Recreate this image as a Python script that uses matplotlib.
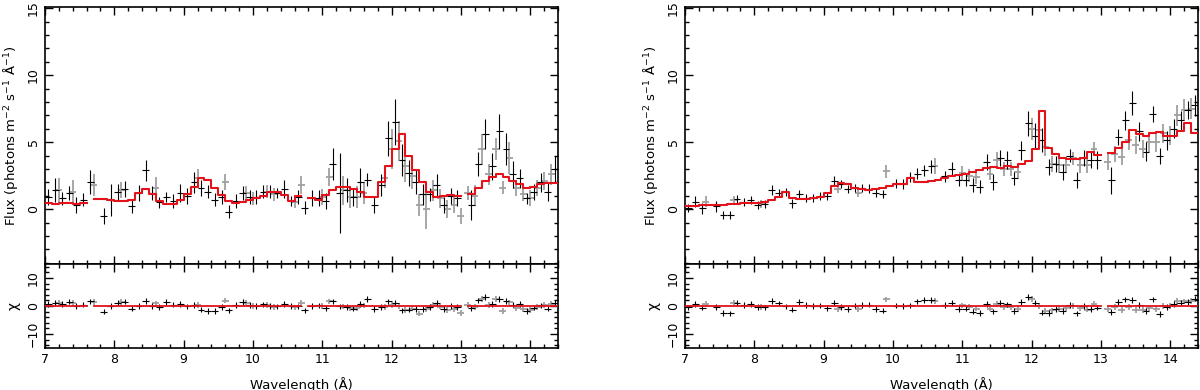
import numpy as np
import matplotlib
matplotlib.use("Agg")
import matplotlib.pyplot as plt
from matplotlib.ticker import MultipleLocator

nan = np.nan

# wavelength bins (Angstrom), 0.1 wide from 7.0 to 14.4
edges = np.round(np.arange(7.0, 14.45, 0.1), 2)
wl_black = np.round(edges[:-1] + 0.05, 3)   # bin centres of the black data
wl_grey = np.round(edges[1:-1], 3)          # grey data sit half a bin later

# ---- left spectrum ----
left_model = [0.47, 0.40, 0.42, 0.42, 0.35, 0.45, 0.50, 0.72, 0.72, 0.68,
              0.60, 0.57, 0.65, 1.20, 1.47, 1.15, 0.60, 0.35, 0.35, 0.65,
              1.10, 1.65, 2.35, 2.15, 1.55, 1.05, 0.60, 0.45, 0.50, 0.67,
              0.85, 1.00, 1.30, 1.25, 1.04, 0.62, 0.97, 0.90, 0.80, 0.67,
              1.04, 1.42, 1.67, 1.67, 1.54, 1.30, 0.92, 0.92, 2.00, 3.20,
              4.50, 5.60, 4.00, 2.90, 2.00, 1.30, 0.92, 0.95, 1.05, 0.95,
              1.00, 1.10, 1.60, 2.10, 2.40, 2.60, 2.40, 2.10, 1.85, 1.55,
              1.65, 1.85, 1.95, 1.92]
left_gaps = [6, 37, 60]

left_black = [0.9, 1.4, 0.8, 1.2, 0.3, 0.7, 2.0, nan, -0.5, 0.7,
              1.3, 1.5, 0.2, 1.2, 2.9, 1.2, 0.5, 0.9, 0.6, 1.2,
              1.0, 2.0, 1.6, 1.3, 0.7, 0.9, -0.2, 0.6, 1.2, 0.9,
              0.9, 1.3, 1.3, 1.2, 1.5, 0.6, 0.9, 0.1, 0.8, 0.8,
              0.6, 3.4, 1.2, 1.4, 0.9, 2.0, 2.2, 0.3, 1.8, 5.3,
              6.5, 3.7, 2.7, 2.0, 1.1, 1.1, 1.8, 0.3, 1.0, 0.8,
              nan, 0.3, 3.4, 5.6, 3.2, 5.8, 4.5, 2.6, 2.3, 0.8,
              1.3, 2.0, 1.3, 3.0]
left_black_err = [0.6, 0.9, 0.5, 0.5, 0.6, 0.5, 0.9, nan, 0.6, 1.2,
                  0.6, 0.6, 0.5, 0.6, 0.8, 0.5, 0.4, 0.4, 0.5, 0.7,
                  0.6, 0.8, 0.6, 0.5, 0.5, 0.5, 0.5, 0.5, 0.5, 0.5,
                  0.5, 0.5, 0.5, 0.4, 0.7, 0.4, 0.5, 0.5, 0.6, 0.6,
                  0.6, 1.2, 3.0, 0.9, 0.7, 1.1, 0.5, 0.6, 0.8, 1.3,
                  1.7, 1.2, 1.0, 0.9, 0.8, 0.5, 0.8, 0.6, 0.6, 0.6,
                  nan, 1.1, 0.9, 1.1, 1.0, 1.3, 1.2, 1.0, 0.7, 0.4,
                  0.6, 0.7, 0.7, 1.0]

left_grey = [nan, 1.4, nan, 1.3, nan, nan, 1.8, nan, nan, nan,
             1.4, nan, nan, nan, nan, 1.6, nan, nan, nan, nan,
             nan, 2.3, nan, nan, nan, 2.0, nan, nan, 1.2, 0.8,
             nan, 1.3, 1.1, nan, nan, 0.55, 1.8, nan, nan, 0.9,
             2.4, nan, 1.4, 0.9, 0.9, 1.2, nan, nan, 2.3, 4.5,
             5.1, 3.2, 2.5, 0.3, 0.0, 1.4, 0.8, 0.0, 0.3, -0.5,
             1.2, 1.0, 4.5, 2.6, 4.5, 1.6, 3.8, 1.6, 1.1, 0.8,
             1.6, 2.1, 2.6]
left_grey_err = [nan, 0.9, nan, 0.9, nan, nan, 0.8, nan, nan, nan,
                 0.6, nan, nan, nan, nan, 0.8, nan, nan, nan, nan,
                 nan, 0.7, nan, nan, nan, 0.6, nan, nan, 0.5, 0.5,
                 nan, 0.5, 0.5, nan, nan, 0.5, 0.7, nan, nan, 0.6,
                 0.7, nan, 1.1, 0.8, 0.8, 0.8, nan, nan, 0.7, 1.5,
                 1.5, 1.2, 1.0, 0.8, 1.5, 0.8, 0.7, 0.7, 0.6, 0.6,
                 0.5, 0.8, 1.1, 0.8, 0.8, 0.5, 1.2, 0.6, 0.5, 0.6,
                 0.6, 0.7, 0.8]

# ---- right spectrum ----
right_model = [0.20, 0.25, 0.28, 0.30, 0.30, 0.30, 0.35, 0.40, 0.45, 0.48,
               0.42, 0.55, 0.67, 0.90, 1.30, 0.80, 0.72, 0.72, 0.80, 0.92,
               1.20, 1.70, 1.97, 1.84, 1.55, 1.50, 1.40, 1.50, 1.60, 1.70,
               1.85, 1.90, 2.30, 2.00, 2.05, 2.10, 2.20, 2.35, 2.45, 2.55,
               2.65, 2.80, 2.95, 3.10, 3.15, 3.10, 3.25, 3.15, 3.40, 3.60,
               4.50, 7.30, 4.60, 4.10, 3.85, 3.78, 3.78, 3.85, 4.30, 4.08,
               4.10, 4.20, 4.60, 5.00, 5.90, 5.60, 5.50, 5.70, 5.75, 5.45,
               5.50, 5.80, 6.40, 5.65]
right_gaps = [60]

right_black = [0.05, 0.55, 0.05, nan, 0.2, -0.45, -0.45, 0.72, 0.55, 0.67,
               0.3, 0.4, 1.42, 1.17, 1.25, 0.42, 1.12, 0.8, 0.8, 0.97,
               0.97, 2.1, 1.87, 1.5, 1.6, 1.6, 1.54, 1.17, 1.1, nan,
               1.9, 1.87, 2.4, 2.66, 2.9, 3.2, nan, 2.46, 3.0, 2.16,
               2.2, 1.8, 1.67, 3.5, 2.0, 3.8, 3.66, 2.3, 4.4, 6.4,
               5.5, 5.15, 3.16, 3.4, 2.8, 4.0, 2.2, 3.8, 3.66, 3.66,
               nan, 2.16, 5.4, 6.64, 7.9, 5.8, 4.3, 7.1, 4.0, 5.15,
               6.0, 6.64, 7.4, 7.76]
right_black_err = [0.3, 0.4, 0.4, nan, 0.4, 0.3, 0.3, 0.3, 0.3, 0.3,
                   0.3, 0.3, 0.4, 0.3, 0.3, 0.3, 0.3, 0.3, 0.3, 0.3,
                   0.3, 0.4, 0.3, 0.3, 0.3, 0.3, 0.3, 0.3, 0.3, nan,
                   0.35, 0.35, 0.4, 0.4, 0.4, 0.5, nan, 0.4, 0.5, 0.4,
                   0.5, 0.5, 0.5, 0.6, 0.6, 0.6, 0.7, 0.5, 0.7, 0.9,
                   0.9, 0.9, 0.6, 0.6, 0.6, 0.5, 0.6, 0.6, 0.6, 0.7,
                   nan, 1.0, 0.6, 0.7, 0.9, 0.7, 0.7, 0.6, 0.6, 0.7,
                   0.7, 0.7, 0.7, 0.8]

right_grey = [nan, nan, 0.55, nan, nan, nan, 0.7, nan, nan, nan,
              0.4, nan, nan, nan, nan, nan, nan, nan, nan, nan,
              nan, 1.54, nan, nan, 1.17, nan, nan, nan, 2.83, nan,
              nan, nan, nan, nan, nan, 3.2, nan, nan, nan, 2.7,
              2.5, 2.4, nan, 2.66, 3.66, 3.0, 3.0, 2.8, nan, 6.0,
              5.9, 4.65, 3.4, 3.3, 3.3, 3.8, 3.3, 3.3, 4.5, nan,
              3.5, 4.15, 3.9, 5.15, 4.8, 4.5, 5.0, 5.0, 5.65, 5.5,
              7.0, 7.4, 7.5]
right_grey_err = [nan, nan, 0.4, nan, nan, nan, 0.3, nan, nan, nan,
                  0.3, nan, nan, nan, nan, nan, nan, nan, nan, nan,
                  nan, 0.3, nan, nan, 0.3, nan, nan, nan, 0.5, nan,
                  nan, nan, nan, nan, nan, 0.6, nan, nan, nan, 0.5,
                  0.5, 0.5, nan, 0.5, 0.6, 0.5, 0.5, 0.5, nan, 0.8,
                  0.8, 0.7, 0.6, 0.6, 0.6, 0.5, 0.6, 0.6, 0.5, nan,
                  0.6, 0.6, 0.6, 0.7, 0.7, 0.7, 0.7, 0.7, 0.7, 0.7,
                  0.8, 0.8, 0.8]

panels = [
    (left_model, left_gaps, left_black, left_black_err, left_grey, left_grey_err),
    (right_model, right_gaps, right_black, right_black_err, right_grey, right_grey_err),
]

RED = "#e3131b"
GREY = "#a0a0a0"

plt.rcParams["font.family"] = "DejaVu Sans"
plt.rcParams["font.size"] = 9

fig = plt.figure(figsize=(12, 3.9), dpi=100)
lefts = [45 / 1200, 685 / 1200]
width = 513 / 1200


def style_axes(ax, major, minor):
    ax.set_xlim(7, 14.4)
    ax.xaxis.set_major_locator(MultipleLocator(1))
    ax.xaxis.set_minor_locator(MultipleLocator(0.2))
    ax.yaxis.set_major_locator(MultipleLocator(major))
    ax.yaxis.set_minor_locator(MultipleLocator(minor))
    ax.tick_params(which="both", direction="in", top=True, right=True,
                   width=1.0, labelsize=9)
    ax.tick_params(which="major", length=6)
    ax.tick_params(which="minor", length=3)
    ax.tick_params(axis="y", labelrotation=90)
    for lab in ax.get_yticklabels():
        lab.set_verticalalignment("center")
    for s in ax.spines.values():
        s.set_linewidth(1.2)


for (model, gaps, fb, eb, fg, eg), left in zip(panels, lefts):
    model = np.array(model)
    fb, eb = np.array(fb), np.array(eb)
    fg, eg = np.array(fg), np.array(eg)

    shown = model.copy()
    shown[gaps] = nan
    step_x = np.repeat(edges, 2)[1:-1]
    step_y = np.repeat(shown, 2)
    zero_y = np.repeat(np.where(np.isnan(shown), nan, 0.0), 2)

    model_grey = 0.5 * (model[:-1] + model[1:])
    chi_b = (fb - model) / eb
    chi_g = (fg - model_grey) / eg

    ax = fig.add_axes([left, 1 - 264 / 390, width, 257 / 390])
    ax.errorbar(wl_grey, fg, xerr=0.05, yerr=eg, fmt="none", ecolor=GREY,
                elinewidth=1.3, capsize=0, zorder=2)
    ax.errorbar(wl_black, fb, xerr=0.05, yerr=eb, fmt="none", ecolor="black",
                elinewidth=0.8, capsize=0, zorder=3)
    ax.plot(step_x, step_y, color=RED, lw=1.5, zorder=4)
    ax.set_ylim(-4.1, 15.1)
    style_axes(ax, 5, 1)
    ax.tick_params(labelbottom=False)
    ax.set_ylabel(r"Flux (photons m$^{-2}$ s$^{-1}$ Å$^{-1}$)", fontsize=9.5)

    rx = fig.add_axes([left, 1 - 348 / 390, width, 84 / 390], sharex=ax)
    rx.errorbar(wl_grey, chi_g, xerr=0.05, yerr=1, fmt="none", ecolor=GREY,
                elinewidth=1.3, capsize=0, zorder=2)
    rx.errorbar(wl_black, chi_b, xerr=0.05, yerr=1, fmt="none", ecolor="black",
                elinewidth=0.8, capsize=0, zorder=3)
    rx.plot(step_x, zero_y, color=RED, lw=1.3, zorder=4)
    rx.set_ylim(-15, 15)
    style_axes(rx, 10, 2)
    rx.set_ylabel("χ", fontsize=10)
    rx.set_xlabel("Wavelength (Å)", fontsize=9.5)

    ax.yaxis.set_label_coords(-0.048, 0.5)
    rx.yaxis.set_label_coords(-0.048, 0.5)
    rx.xaxis.set_label_coords(0.5, -0.34)

fig.savefig("out.png", dpi=100)
